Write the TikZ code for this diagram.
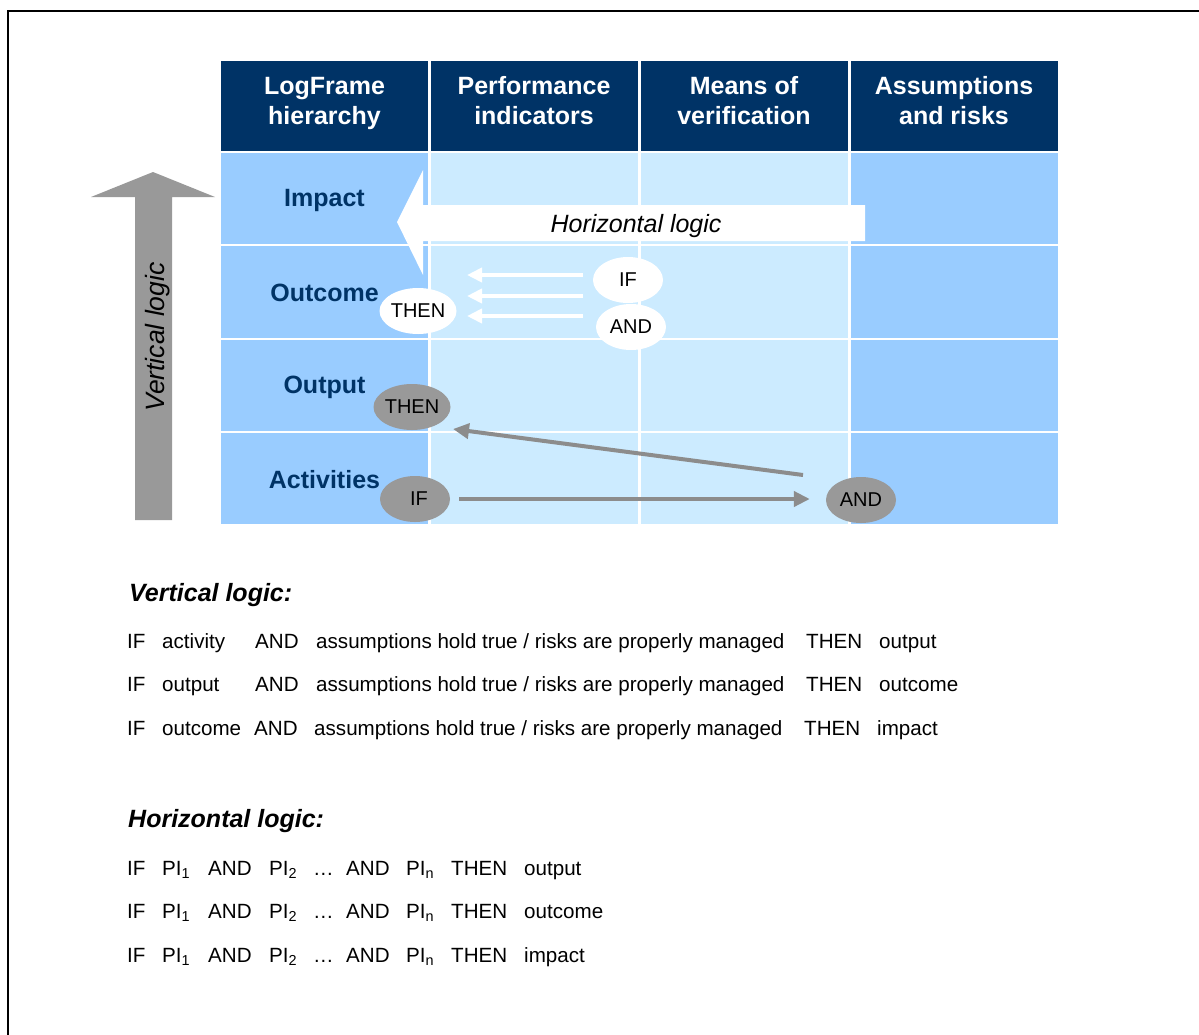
\documentclass[tikz,border=0pt]{standalone}
\usepackage{fontspec}
\setmainfont{Liberation Sans}
\usetikzlibrary{shapes.geometric,arrows.meta}
\definecolor{navy}{HTML}{003366}
\definecolor{darkcell}{HTML}{99CCFF}
\definecolor{lightcell}{HTML}{CCEBFF}
\definecolor{bigarrow}{HTML}{999999}
\definecolor{ovalgray}{HTML}{999999}
\definecolor{linegray}{HTML}{8C8C8C}
\definecolor{labelblue}{HTML}{003366}
\tikzset{
  cell/.style={draw=white, line width=2pt, inner sep=0pt, minimum width=209pt},
  head/.style={cell, fill=navy, minimum height=92pt},
  htext/.style={inner sep=0pt, text=white, align=center,
    font=\fontsize{25}{30}\selectfont\bfseries},
  rowlab/.style={text=labelblue, font=\fontsize{25}{30}\selectfont\bfseries},
  oval/.style={ellipse, inner sep=0pt, minimum width=70pt, minimum height=46pt,
    font=\fontsize{20}{24}\selectfont},
  woval/.style={oval, fill=white},
  goval/.style={oval, fill=ovalgray},
  garrow/.style={draw=linegray, line width=4pt, -{Triangle[length=16pt,width=15pt]}},
  warrow/.style={draw=white, line width=4pt, -{Triangle[length=15pt,width=14pt]}},
  body/.style={anchor=base west, inner sep=0pt, font=\fontsize{20.6}{24}\selectfont},
  title/.style={anchor=base west, inner sep=0pt, font=\fontsize{25}{30}\selectfont\bfseries\itshape},
}
\begin{document}
\begin{tikzpicture}[x=1pt,y=-1pt]
\useasboundingbox (0,0) rectangle (1199,1034);
% frame
\draw[line width=2pt] (8,1040) -- (8,11) -- (1205,11);
% header
\node[head] (h1) at (324.5,106) {};
\node[head] (h2) at (534,106) {};
\node[head] (h3) at (744,106) {};
\node[head] (h4) at (954,106) {};
\node[htext] (t1) at (h1.center |- 0,103) {\strut LogFrame\\\strut hierarchy};
\node[htext] (t2) at (h2.center |- 0,103) {\strut Performance\\\strut indicators};
\node[htext] (t3) at (h3.center |- 0,103) {\strut Means of\\\strut verification};
\node[htext] (t4) at (h4.center |- 0,103) {\strut Assumptions\\\strut and risks};
% body cells
\foreach \r/\y in {1/198.5,2/292,3/385.5,4/478.5}{
  \node[cell, fill=darkcell, minimum height=93.5pt] (a\r) at (324.5,\y) {};
  \node[cell, fill=lightcell, minimum height=93.5pt] (b\r) at (534,\y) {};
  \node[cell, fill=lightcell, minimum height=93.5pt] (m\r) at (744,\y) {};
  \node[cell, fill=darkcell, minimum height=93.5pt] (s\r) at (954,\y) {};
}
% row labels
\node[rowlab] (limpact) at (324.5,200) {Impact};
\node[rowlab] (loutcome) at (324.5,293) {Outcome};
\node[rowlab] (loutput) at (324.5,387) {Output};
\node[rowlab] (lactiv) at (324.5,480) {Activities};
% vertical arrow
\fill[bigarrow] (135,520) -- (135,197) -- (91,197) -- (153,172) -- (215,197) -- (172,197) -- (172,520) -- cycle;
\node[rotate=90, font=\fontsize{26.5}{30}\selectfont\itshape, text=black] (vlog) at (158,337) {Vertical logic};
% horizontal arrow
\fill[white] (865,205) -- (423,205) -- (423,170) -- (397,222) -- (423,275) -- (423,241) -- (865,241) -- cycle;
\node[font=\fontsize{25}{30}\selectfont\itshape] (hlog) at (636,226) {Horizontal logic};
% small white arrows
\coordinate (w1s) at (583,275); \coordinate (w1e) at (467,275);
\coordinate (w2s) at (583,296); \coordinate (w2e) at (467,296);
\coordinate (w3s) at (583,316); \coordinate (w3e) at (467,316);
\draw[warrow] (w1s) -- (w1e);
\draw[warrow] (w2s) -- (w2e);
\draw[warrow] (w3s) -- (w3e);
% ovals
\node[woval] (ifW) at (628,280) {IF};
\node[woval] (andW) at (631,327) {AND};
\node[woval] (thenW) at (418,311) {THEN};
\node[goval] (thenG) at (412,407) {THEN};
\node[goval] (ifG) at (415,499) {\hspace*{8pt}IF};
\node[goval] (andG) at (861,500) {AND};
% gray arrows
\draw[garrow, shorten <=9pt, shorten >=16pt] (ifG.east) -- (andG.west |- ifG.east);
\coordinate (g1) at (803,475);
\coordinate (g2) at (453,429);
\draw[garrow] (g1) -- (g2);
% vertical logic text
\node[title] (vt) at (129,601) {Vertical logic:};
\foreach \y/\w/\t/\xa/\xb/\xc/\xd in {648/activity/output/255/316/806/879, 691/output/outcome/255/316/806/879, 735/outcome/impact/254/314/804/877}{
  \node[body] at (127,\y) {IF};
  \node[body] at (162,\y) {\w};
  \node[body] at (\xa,\y) {AND};
  \node[body] at (\xb,\y) {assumptions hold true / risks are properly managed};
  \node[body] at (\xc,\y) {THEN};
  \node[body] at (\xd,\y) {\t};
}
% horizontal logic text
\node[title] (ht) at (128,827) {Horizontal logic:};
\foreach \y/\t in {875/output, 918/outcome, 962/impact}{
  \node[body] at (127,\y) {IF};
  \node[body] at (162,\y) {PI\textsubscript{1}};
  \node[body] at (208,\y) {AND};
  \node[body] at (269,\y) {PI\textsubscript{2}};
  \node[body] at (313,\y) {…};
  \node[body] at (346,\y) {AND};
  \node[body] at (406,\y) {PI\textsubscript{n}};
  \node[body] at (451,\y) {THEN};
  \node[body] at (524,\y) {\t};
}
\end{tikzpicture}
\end{document}
